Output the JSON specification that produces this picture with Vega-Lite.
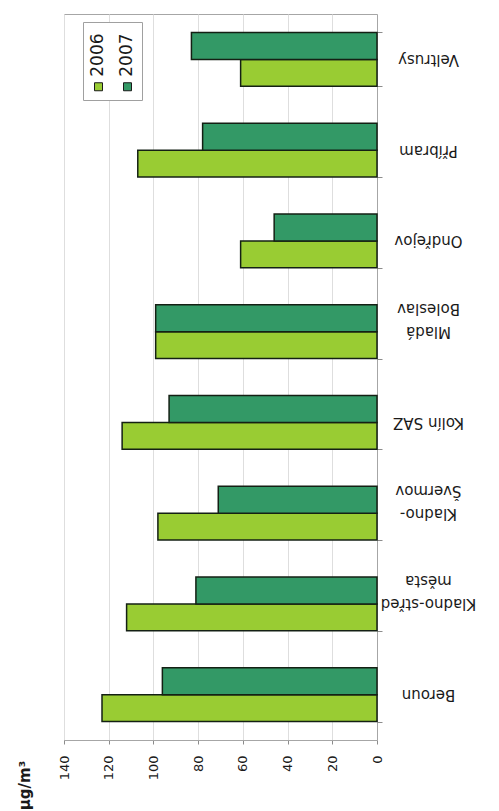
{
  "$schema": "https://vega.github.io/schema/vega-lite/v6.json",
  "width": 313,
  "height": 726,
  "autosize": "none",
  "padding": {"left": 64, "top": 14, "right": 122, "bottom": 71},
  "background": "white",
  "config": {
    "font": "DejaVu Sans",
    "view": {"stroke": "#a6a6a6", "strokeWidth": 1}
  },
  "data": {
    "values": [
      {"site": "Veltrusy", "year": "2006", "value": 61},
      {"site": "Veltrusy", "year": "2007", "value": 83},
      {"site": "Příbram", "year": "2006", "value": 107},
      {"site": "Příbram", "year": "2007", "value": 78},
      {"site": "Ondřejov", "year": "2006", "value": 61},
      {"site": "Ondřejov", "year": "2007", "value": 46},
      {"site": "Mladá Boleslav", "year": "2006", "value": 99},
      {"site": "Mladá Boleslav", "year": "2007", "value": 99},
      {"site": "Kolín SAZ", "year": "2006", "value": 114},
      {"site": "Kolín SAZ", "year": "2007", "value": 93},
      {"site": "Kladno-Švermov", "year": "2006", "value": 98},
      {"site": "Kladno-Švermov", "year": "2007", "value": 71},
      {"site": "Kladno-střed města", "year": "2006", "value": 112},
      {"site": "Kladno-střed města", "year": "2007", "value": 81},
      {"site": "Beroun", "year": "2006", "value": 123},
      {"site": "Beroun", "year": "2007", "value": 96}
    ]
  },
  "mark": {"type": "bar", "stroke": "#142014", "strokeWidth": 1.5},
  "encoding": {
    "y": {
      "field": "site",
      "type": "nominal",
      "sort": ["Veltrusy", "Příbram", "Ondřejov", "Mladá Boleslav", "Kolín SAZ", "Kladno-Švermov", "Kladno-střed města", "Beroun"],
      "scale": {"paddingInner": 0.405, "paddingOuter": 0.2025},
      "axis": {
        "orient": "right",
        "title": null,
        "domainColor": "#a6a6a6",
        "tickColor": "#8c8c8c",
        "tickBand": "extent",
        "tickSize": 5,
        "labelAngle": 180,
        "labelAlign": "center",
        "labelBaseline": "middle",
        "labelPadding": 46,
        "labelFontSize": 15,
        "labelColor": "#1a1a1a",
        "labelLineHeight": 23,
        "labelExpr": "datum.value === 'Kladno-Švermov' ? ['Kladno-', 'Švermov'] : datum.value === 'Kladno-střed města' ? ['Kladno-střed', 'města'] : datum.value === 'Mladá Boleslav' ? ['Mladá', 'Boleslav'] : datum.label"
      }
    },
    "yOffset": {"field": "year", "type": "nominal", "sort": "descending", "scale": {"paddingInner": 0}},
    "x": {
      "field": "value",
      "type": "quantitative",
      "scale": {"domain": [0, 140], "reverse": true, "nice": false},
      "axis": {
        "values": [0, 20, 40, 60, 80, 100, 120, 140],
        "grid": true,
        "gridColor": "#dedede",
        "domainColor": "#a6a6a6",
        "tickColor": "#8c8c8c",
        "tickSize": 4,
        "labelAngle": 270,
        "labelFontSize": 13,
        "labelPadding": 11,
        "labelColor": "#1a1a1a",
        "title": "µg/m³",
        "titleAngle": 270,
        "titleFontSize": 15,
        "titleFontWeight": "bold",
        "titleColor": "#1a1a1a",
        "titleAlign": "center",
        "titleBaseline": "middle",
        "titleX": -40,
        "titleY": 45
      }
    },
    "color": {
      "field": "year",
      "type": "nominal",
      "scale": {"domain": ["2006", "2007"], "range": ["#99cc33", "#339966"]},
      "legend": {
        "orient": "none",
        "legendX": 19,
        "legendY": 8,
        "direction": "horizontal",
        "title": " ",
        "titleFontSize": 10,
        "titlePadding": 39,
        "strokeColor": "#a0a0a0",
        "fillColor": "white",
        "padding": 7,
        "symbolType": "square",
        "symbolSize": 64,
        "symbolStrokeColor": "#1a1a1a",
        "symbolStrokeWidth": 1,
        "labelFontSize": 17,
        "labelColor": "#1a1a1a",
        "labelOffset": 0,
        "columnPadding": 11,
        "encode": {
          "labels": {"update": {"angle": {"value": -90}, "dx": {"value": 10}, "dy": {"value": -9}}}
        }
      }
    }
  }
}
